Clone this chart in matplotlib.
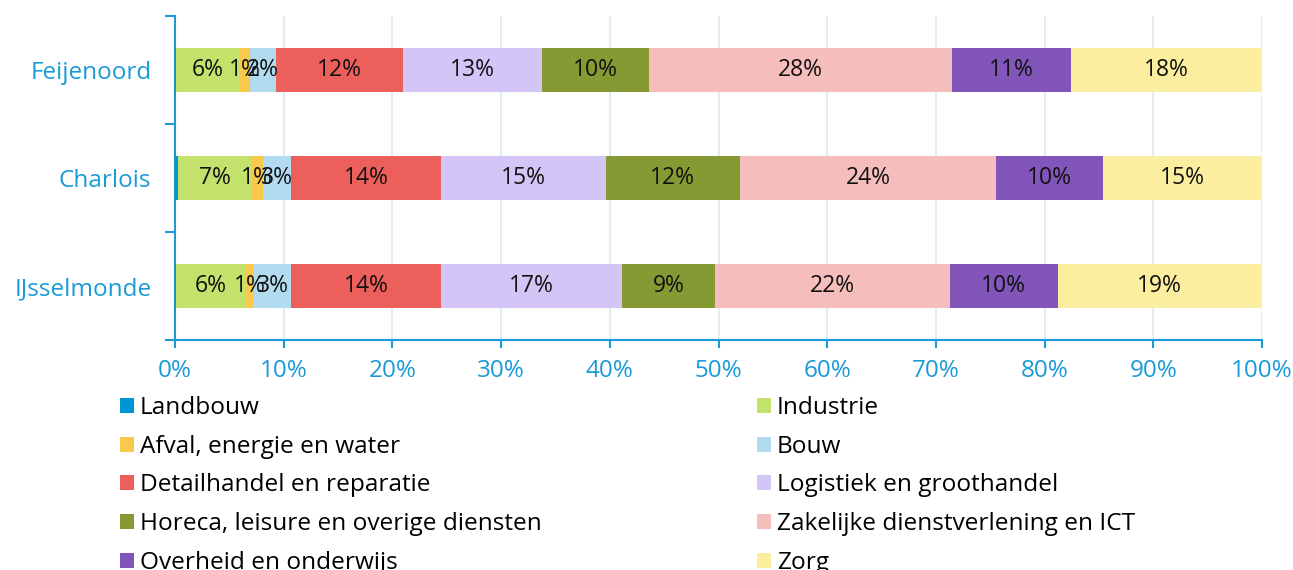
import matplotlib
matplotlib.use("Agg")
import matplotlib.pyplot as plt
from matplotlib.patches import Patch
from matplotlib.ticker import FixedLocator

plt.rcParams['font.family'] = ['Open Sans', 'DejaVu Sans']

districts = ["Feijenoord", "Charlois", "IJsselmonde"]
sectors = ["Landbouw", "Industrie", "Afval, energie en water", "Bouw",
           "Detailhandel en reparatie", "Logistiek en groothandel",
           "Horeca, leisure en overige diensten",
           "Zakelijke dienstverlening en ICT", "Overheid en onderwijs", "Zorg"]
landbouw = [0.05, 0.30, 0.05]
industrie = [5.90, 6.75, 6.45]
afval = [0.95, 1.05, 0.75]
bouw = [2.35, 2.60, 3.45]
detailhandel = [11.70, 13.75, 13.80]
logistiek = [12.80, 15.20, 16.60]
horeca = [9.90, 12.30, 8.60]
zakelijk = [27.80, 23.60, 21.60]
overheid = [11.00, 9.80, 9.90]
zorg = [17.55, 14.65, 18.80]
series = [landbouw, industrie, afval, bouw, detailhandel, logistiek,
          horeca, zakelijk, overheid, zorg]
colors = ["#0096d6", "#c3e26c", "#f8c94a", "#b2dbf0", "#ec5f5a", "#d4c5f7",
          "#869a33", "#f5bdbc", "#8155b9", "#fcee9f"]
xticks = [0, 10, 20, 30, 40, 50, 60, 70, 80, 90, 100]
xticklabels = [f"{t}%" for t in xticks]

axis_blue = "#1a9ad7"

fig = plt.figure(figsize=(12.93, 5.70), dpi=100)
ax = fig.add_axes([175/1293, 1-340/570, (1262-175)/1293, (340-16)/570])

ypos = list(range(len(districts)))
left = [0.0]*len(districts)
for vals, col in zip(series, colors):
    ax.barh(ypos, vals, left=left, height=0.4, color=col, zorder=3)
    for i, v in enumerate(vals):
        if round(v) >= 1:
            ax.text(left[i] + v/2, ypos[i], f"{round(v)}%", ha="center", va="center",
                    fontsize=16.5, color="#111111", zorder=4)
    left = [l + v for l, v in zip(left, vals)]

ax.set_xlim(0, 100)
ax.set_ylim(2.5, -0.5)
ax.set_xticks(xticks)
ax.set_xticklabels(xticklabels)
ax.set_yticks(ypos)
ax.set_yticklabels(districts)
ax.yaxis.set_minor_locator(FixedLocator([-0.5, 0.5, 1.5, 2.5]))
ax.grid(axis="x", color="#e4ebf4", linewidth=1.5, zorder=0)
for s in ["top", "right"]:
    ax.spines[s].set_visible(False)
for s in ["left", "bottom"]:
    ax.spines[s].set_color(axis_blue)
    ax.spines[s].set_linewidth(1.5)
ax.tick_params(axis="x", colors=axis_blue, labelsize=17.5, length=6, width=1.5, pad=8)
ax.tick_params(axis="y", which="major", colors=axis_blue, labelsize=17.5, length=0, pad=17)
ax.tick_params(axis="y", which="minor", colors=axis_blue, length=7, width=1.5)

handles = [Patch(facecolor=c, edgecolor="none") for c in colors]
col1 = [0, 2, 4, 6, 8]
col2 = [1, 3, 5, 7, 9]
for idxs, xpos in [(col1, 120/1293), (col2, 757/1293)]:
    fig.legend([handles[i] for i in idxs], [sectors[i] for i in idxs],
               loc="upper left", bbox_to_anchor=(xpos, 1-396/570), frameon=False,
               fontsize=17.6, handlelength=0.57, handleheight=0.57, handletextpad=0.25,
               labelspacing=0.6, borderpad=0, borderaxespad=0)

fig.savefig("out.png", dpi=100)
